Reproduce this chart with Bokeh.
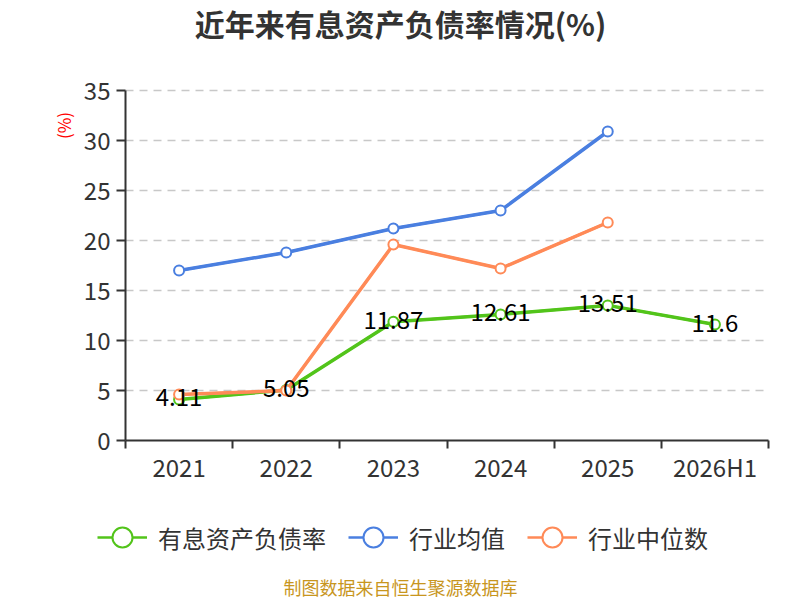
from bokeh.core.properties import value
from bokeh.embed import file_html
from bokeh.models import (ColumnDataSource, FixedTicker, Label, Legend,
                          LegendItem, Range1d)
from bokeh.plotting import figure
from bokeh.resources import INLINE

categories = ["2021", "2022", "2023", "2024", "2025", "2026H1"]
debt_ratio = [4.11, 5.05, 11.87, 12.61, 13.51, 11.6]
industry_mean = [17.0, 18.8, 21.2, 23.0, 30.9]
industry_median = [4.6, 5.0, 19.6, 17.2, 21.8]
y_ticks = [0, 5, 10, 15, 20, 25, 30, 35]

FONT = "Noto Sans CJK SC"
GREEN = "#52C41A"
BLUE = "#4A7FE0"
ORANGE = "#FF8A57"
TEXT = "#333333"

# canvas and plot area in pixels; the whole canvas is the frame so that
# the title, legend and source note can live inside it without clipping
W, H = 784, 600
LEFT, RIGHT, TOP, BOTTOM = 125, 768, 90, 440
n = len(categories)
x_px = (RIGHT - LEFT) / n
y_px = (BOTTOM - TOP) / y_ticks[-1]


def dx(px):
    return (px - LEFT) / x_px


def dy(px):
    return (BOTTOM - px) / y_px


xs = [i + 0.5 for i in range(n)]

p = figure(width=W, height=H, output_backend="svg", toolbar_location=None,
           x_range=Range1d(dx(0), dx(W)), y_range=Range1d(dy(H), dy(0)),
           min_border=0)
p.outline_line_color = None
p.title.visible = False
p.grid.visible = False

# axes pinned at the data origin
p.xaxis.fixed_location = 0
p.xaxis.bounds = (0, n)
p.xaxis.ticker = FixedTicker(ticks=xs, minor_ticks=list(range(n + 1)))
p.xaxis.major_label_overrides = {x: c for x, c in zip(xs, categories)}
p.xaxis.major_tick_out = 0
p.xaxis.major_tick_in = 0
p.xaxis.minor_tick_out = 8
p.xaxis.minor_tick_in = 0
p.xaxis.minor_tick_line_color = TEXT
p.xaxis.minor_tick_line_width = 2
p.xaxis.major_label_standoff = 0
p.yaxis.fixed_location = 0
p.yaxis.bounds = (0, y_ticks[-1])
p.yaxis.ticker = FixedTicker(ticks=y_ticks)
p.yaxis.major_tick_out = 9
p.yaxis.major_tick_in = 0
p.yaxis.minor_tick_line_color = None
p.yaxis.major_label_standoff = 6
for ax in (p.xaxis, p.yaxis):
    ax.axis_line_color = TEXT
    ax.axis_line_width = 2
    ax.major_tick_line_color = TEXT
    ax.major_tick_line_width = 2
    ax.major_label_text_font = FONT
    ax.major_label_text_font_size = "24px"
    ax.major_label_text_color = TEXT

# dashed grid only across the plot area
grid_y = y_ticks[1:]
p.segment(x0=[0] * len(grid_y), x1=[n] * len(grid_y), y0=grid_y, y1=grid_y,
          line_color="#c8c8c8", line_width=1.5, line_dash="8 6")

# series
src_ratio = ColumnDataSource(data=dict(x=xs, y=debt_ratio, label=[str(v) for v in debt_ratio]))
src_mean = ColumnDataSource(data=dict(x=xs[:len(industry_mean)], y=industry_mean))
src_median = ColumnDataSource(data=dict(x=xs[:len(industry_median)], y=industry_median))

series = [(src_ratio, GREEN, "有息资产负债率"),
          (src_mean, BLUE, "行业均值"),
          (src_median, ORANGE, "行业中位数")]
items = []
for src, color, name in series:
    # thinner copy under the real line, only used for the legend key
    key = p.line("x", "y", source=src, line_color=color, line_width=2.5)
    p.line("x", "y", source=src, line_color=color, line_width=3.5)
    sc = p.scatter("x", "y", source=src, size=10, fill_color="white",
                   line_color=color, line_width=2)
    items.append(LegendItem(label=name, renderers=[key, sc]))

p.text("x", "y", text="label", source=src_ratio, text_font=value(FONT),
       text_font_size="24px", text_color="#000000", text_align="center",
       text_baseline="middle", y_offset=-2)

# texts around the plot area
p.add_layout(Label(x=dx(400), y=dy(22), text="近年来有息资产负债率情况(%)",
                   text_font=FONT, text_font_size="30px", text_font_style="bold",
                   text_color=TEXT, text_align="center", text_baseline="middle"))
p.add_layout(Label(x=dx(63), y=dy(125), text="(%)", angle=1.5708,
                   text_font=FONT, text_font_size="17px", text_color="red",
                   text_align="center", text_baseline="middle"))
p.add_layout(Label(x=dx(400), y=dy(586), text="制图数据来自恒生聚源数据库",
                   text_font=FONT, text_font_size="18px", text_color="#C8961E",
                   text_align="center", text_baseline="middle"))

legend = Legend(items=items, orientation="horizontal", location=(97, H - 565),
                label_text_font=FONT, label_text_font_size="24px",
                label_text_color=TEXT, glyph_width=50, glyph_height=56,
                spacing=22, label_standoff=11, border_line_color=None,
                background_fill_alpha=0, margin=0, padding=0)
p.add_layout(legend)

open("out.html", "w").write(file_html(p, INLINE))
